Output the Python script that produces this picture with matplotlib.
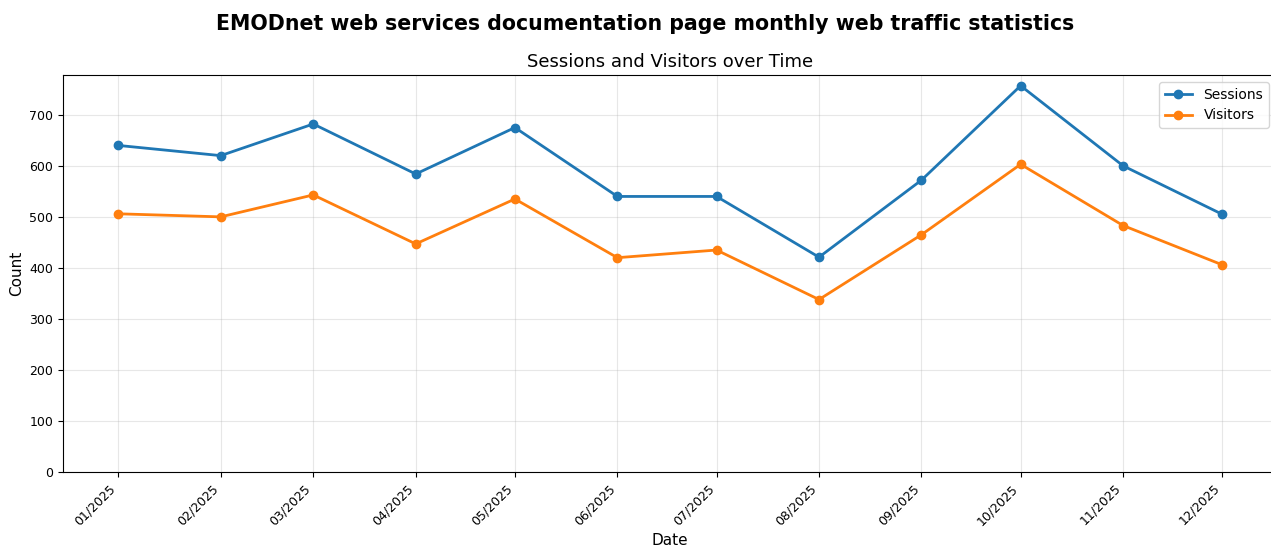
import matplotlib
matplotlib.use("Agg")
import matplotlib.pyplot as plt
import matplotlib.dates as mdates
import numpy as np
import pandas as pd

months = ["2025-01", "2025-02", "2025-03", "2025-04", "2025-05", "2025-06",
          "2025-07", "2025-08", "2025-09", "2025-10", "2025-11", "2025-12"]
sessions = [640, 620, 682, 584, 675, 540, 540, 421, 572, 757, 600, 505]
visitors = [506, 500, 543, 447, 535, 420, 435, 338, 465, 603, 483, 406]

dates = pd.to_datetime(months)

fig = plt.figure(figsize=(12.71, 5.46), dpi=100)
ax = fig.add_axes([0.0496, 0.1355, 0.9555, 0.7271])

ax.plot(dates, sessions, marker='o', linewidth=2, markersize=6, label='Sessions')
ax.plot(dates, visitors, marker='o', linewidth=2, markersize=6, label='Visitors')

ax.xaxis.set_major_formatter(mdates.DateFormatter('%m/%Y'))
ax.xaxis.set_major_locator(mdates.MonthLocator())
plt.setp(ax.get_xticklabels(), rotation=45, ha='right')
ax.tick_params(labelsize=9)
ax.set_ylim(bottom=0)
ax.spines['right'].set_visible(False)

ax.set_title('Sessions and Visitors over Time', fontsize=13)
ax.set_xlabel('Date', fontsize=11)
ax.set_ylabel('Count', fontsize=11)
ax.grid(True, alpha=0.3)
ax.legend(loc='upper right', fontsize=10, bbox_to_anchor=(0.9985, 1.0))

fig.suptitle('EMODnet web services documentation page monthly web traffic statistics',
             fontsize=14.8, fontweight='bold', x=0.5075, y=0.975)

fig.savefig('out.png', dpi=100)
